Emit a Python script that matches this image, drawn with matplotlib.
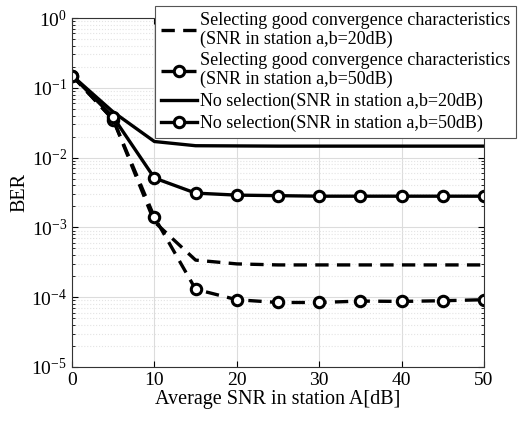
import numpy as np
import matplotlib
matplotlib.use('Agg')
import matplotlib.pyplot as plt

# Données
snr = [0, 5, 10, 15, 20, 25, 30, 35, 40, 45, 50]
ber_sel_20 = [0.15, 0.035, 1.2e-3, 3.4e-4, 3.0e-4, 2.9e-4, 2.9e-4, 2.9e-4, 2.9e-4, 2.9e-4, 2.9e-4]
ber_sel_50 = [0.15, 0.035, 1.4e-3, 1.3e-4, 9.2e-5, 8.4e-5, 8.4e-5, 8.8e-5, 8.7e-5, 8.9e-5, 9.2e-5]
ber_nosel_20 = [0.15, 0.045, 0.017, 0.0148, 0.0147, 0.0146, 0.0146, 0.0146, 0.0146, 0.0146, 0.0146]
ber_nosel_50 = [0.15, 0.038, 5.1e-3, 3.1e-3, 2.9e-3, 2.85e-3, 2.8e-3, 2.8e-3, 2.8e-3, 2.8e-3, 2.8e-3]

labels = [
    "Selecting good convergence characteristics\n(SNR in station a,b=20dB)",
    "Selecting good convergence characteristics\n(SNR in station a,b=50dB)",
    "No selection(SNR in station a,b=20dB)",
    "No selection(SNR in station a,b=50dB)",
]

plt.rcParams['font.family'] = ['Liberation Serif', 'DejaVu Serif']
plt.rcParams['mathtext.fontset'] = 'stix'

fig = plt.figure(figsize=(5.18, 4.21), dpi=100)
ax = fig.add_axes([72 / 518, 1 - 367 / 421, (484 - 72) / 518, (367 - 18) / 421])

lw = 2.4
ax.semilogy(snr, ber_sel_20, color='black', lw=lw, ls=(0, (4, 2.5)), label=labels[0])
ax.semilogy(snr, ber_sel_50, color='black', lw=lw, ls=(0, (4, 2.5)), marker='o', ms=7.5,
            mfc='white', mec='black', mew=2.2, label=labels[1])
ax.semilogy(snr, ber_nosel_20, color='black', lw=lw, label=labels[2])
ax.semilogy(snr, ber_nosel_50, color='black', lw=lw, marker='o', ms=7.5,
            mfc='white', mec='black', mew=2.2, label=labels[3])

ax.set_xlim(0, 50)
ax.set_ylim(1e-5, 1)
ax.set_xticks([0, 10, 20, 30, 40, 50])
ax.grid(True, which='major', color='#dcdcdc', lw=0.8, ls='-')
ax.grid(True, which='minor', axis='y', color='#e4e4e4', lw=0.8, ls=':')
ax.tick_params(which='both', direction='in', top=True, right=True, labelsize=14)
ax.tick_params(which='major', length=4)
ax.tick_params(which='minor', length=2)
for s in ax.spines.values():
    s.set_linewidth(0.8)
    s.set_color('#333333')

ax.set_xlabel('Average SNR in station A[dB]', fontsize=14.5, labelpad=1)
ax.set_ylabel('BER', fontsize=14.5, labelpad=1)

leg = ax.legend(loc='upper right', bbox_to_anchor=(516 / 518, 1 - 6 / 421),
                bbox_transform=fig.transFigure, fontsize=13, frameon=True,
                fancybox=False, edgecolor='#555555', framealpha=1,
                handlelength=2.0, handletextpad=0.15, labelspacing=0.26,
                borderpad=0.32, borderaxespad=0)
leg.get_frame().set_linewidth(0.8)
for t in leg.get_texts():
    t.set_linespacing(1.12)

fig.savefig('out.png', dpi=100)
